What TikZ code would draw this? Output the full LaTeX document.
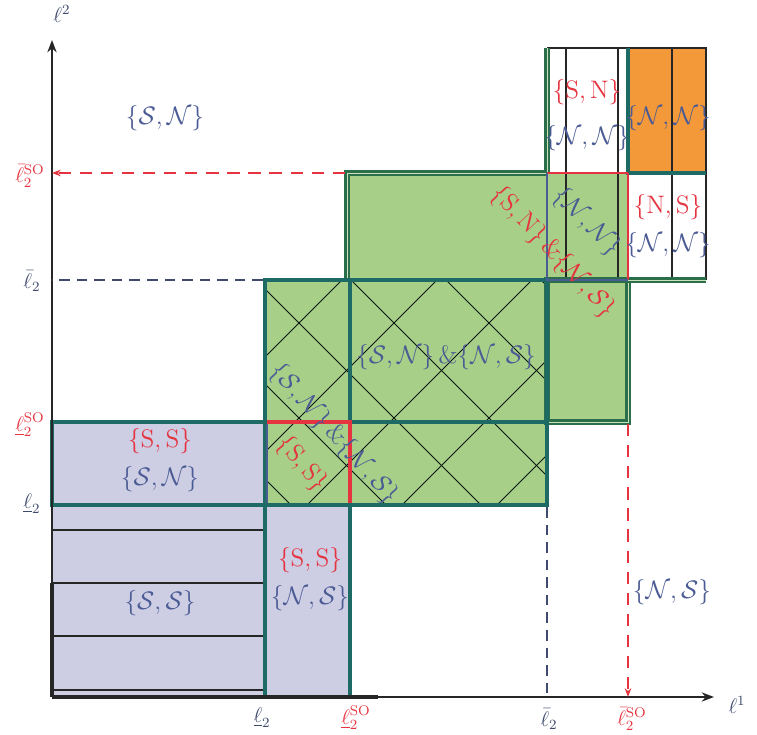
\documentclass[tikz,border=0pt]{standalone}
\usepackage{amsmath,amssymb}
\usetikzlibrary{arrows.meta, positioning}
\definecolor{pteal}{HTML}{1E6B66}
\definecolor{pdgreen}{HTML}{2B6E4C}
\definecolor{pgreen}{HTML}{A7CF88}
\definecolor{plav}{HTML}{CDCDE4}
\definecolor{porange}{HTML}{F4993A}
\definecolor{pred}{HTML}{E5333F}
\definecolor{pblue}{HTML}{4B5B94}
\definecolor{paxis}{HTML}{3F4A6E}
\tikzset{
  tbox/.style={draw=pteal, line width=2.6pt},
  dbox/.style={draw=pdgreen, line width=1.5pt, double=pgreen!60!white, double distance=0.4pt},
  thinl/.style={draw=black!85, line width=0.6pt},
  hatch/.style={draw=black!80!pdgreen, line width=0.5pt},
  bluelab/.style={text=pblue, font=\Large, inner sep=1pt},
  redlab/.style={text=pred, font=\Large, inner sep=1pt},
  axlab/.style={text=paxis, font=\large, inner sep=1pt},
  raxlab/.style={text=pred, font=\large, inner sep=1pt},
  rdash/.style={pred, dashed, line width=1.6pt, dash pattern=on 7pt off 5pt},
  bdash/.style={paxis, dashed, line width=0.6pt, dash pattern=on 6pt off 4pt},
}

\begin{document}
\begin{tikzpicture}[x=0.02cm, y=-0.02cm]
  \useasboundingbox (0,0) rectangle (757,734);

  %% Fills
  \fill[plav] (52,422) rectangle (265,697);
  \fill[plav] (265,505) rectangle (350,697);
  \fill[pgreen] (265,280) rectangle (547,505);
  \fill[pgreen] (347,173) rectangle (628,280);
  \fill[pgreen] (547,280) rectangle (628,422);
  \fill[porange] (628,48) rectangle (706,173);

  %% Crosshatch on the green block
  \begin{scope}
    \clip (265,280) rectangle (547,505);
    \foreach \c in {527,622,...,1002}
      \draw[hatch] (\c-200,200) -- (\c-600,600);
    \foreach \d in {-214,-119,...,261}
      \draw[hatch] (200+\d,200) -- (600+\d,600);
  \end{scope}

  %% Stripes
  \foreach \y in {530,583,636,690}
    \draw[thinl] (52,\y) -- (265,\y);
  \foreach \x in {566,618,672}
    \draw[thinl] (\x,48) -- (\x,280);
  \draw[thinl] (547,48) -- (628,48);
  \draw[black!85, line width=1.2pt] (628,48) -- (706,48) -- (706,173);
  \draw[thinl] (706,173) -- (706,280);

  %% Borders
  \draw[dbox] (347,280) -- (347,173) -- (547,173);
  \draw[dbox] (547,280) rectangle (628,422);
  \draw[dbox] (628,280) -- (706,280);
  \draw[dbox] (547,48) -- (547,173);
  \draw[tbox] (628,48) -- (628,173) -- (706,173);
  \draw[tbox] (52,422) rectangle (265,505);
  \draw[tbox] (265,505) rectangle (350,697);
  \draw[tbox] (265,280) rectangle (547,505);
  \draw[tbox] (350,280) -- (350,505);
  \draw[tbox] (265,422) -- (547,422);

  %% Highlight edges
  \draw[pred, line width=1.6pt] (547,173) -- (628,173);
  \draw[pred, line width=1.2pt] (628,173) -- (628,280);
  \draw[pblue, line width=1.4pt] (547,173) -- (547,280) -- (628,280);
  \draw[pred, line width=2pt] (267,422) -- (350,422) -- (350,503);
  \draw[pblue, line width=0.8pt] (267,424) -- (267,503);

  %% Axes
  \coordinate (O) at (52,697);
  \coordinate (xend) at (714,697);
  \coordinate (yend) at (52,40);
  \draw[black!85, line width=1.1pt, -{Stealth[length=7pt]}] (O) -- (xend);
  \draw[black!85, line width=1.1pt, -{Stealth[length=7pt]}] (O) -- (yend);
  \draw[black!85, line width=2.4pt] (52,697) -- (378,697);
  \draw[black!85, line width=2pt] (52,583) -- (52,697);
  \node[axlab] (l1) at (737,705) {$\ell^1$};
  \node[axlab] (l2) at (62,14) {$\ell^2$};

  %% Threshold guides
  \coordinate (ybsoA) at (52,173);
  \coordinate (ybsoB) at (345,173);
  \coordinate (ybA) at (52,280);
  \coordinate (ybB) at (263,280);
  \coordinate (xbA) at (547,507);
  \coordinate (xbB) at (547,697);
  \coordinate (xbsoA) at (628,424);
  \coordinate (xbsoB) at (628,697);
  \draw[rdash, -{Stealth[length=5pt]}] (ybsoB) -- (ybsoA);
  \draw[rdash, -{Stealth[length=5pt]}] (xbsoA) -- (xbsoB);
  \draw[bdash] (ybB) -- (ybA);
  \draw[bdash] (xbA) -- (xbB);

  %% Axis ticks labels
  \node[raxlab] (ybso) at (30,176) {$\bar{\ell}_2^{\mathrm{SO}}$};
  \node[axlab] (yb) at (32,281) {$\bar{\ell}_2$};
  \node[raxlab] (yuso) at (30,425) {$\underline{\ell}_2^{\mathrm{SO}}$};
  \node[axlab] (yu) at (32,504) {$\underline{\ell}_2$};
  \node[axlab] (xu) at (262,718) {$\underline{\ell}_2$};
  \node[raxlab] (xuso) at (356,718) {$\underline{\ell}_2^{\mathrm{SO}}$};
  \node[axlab] (xb) at (549,719) {$\bar{\ell}_2$};
  \node[raxlab] (xbso) at (632,719) {$\bar{\ell}_2^{\mathrm{SO}}$};

  %% Region labels
  \node[bluelab] (snA) at (165,118) {$\{\mathcal{S},\mathcal{N}\}$};
  \node[redlab] (ssA) at (160,441) {$\{\mathrm{S},\mathrm{S}\}$};
  \node[bluelab] (snB) at (160,479) {$\{\mathcal{S},\mathcal{N}\}$};
  \node[bluelab] (ssB) at (160,603) {$\{\mathcal{S},\mathcal{S}\}$};
  \node[redlab] (ssC) at (310,560) {$\{\mathrm{S},\mathrm{S}\}$};
  \node[bluelab] (nsA) at (310,598) {$\{\mathcal{N},\mathcal{S}\}$};
  \node[bluelab] (mixA) at (446,357) {$\{\mathcal{S},\mathcal{N}\}\,\&\{\mathcal{N},\mathcal{S}\}$};
  \node[bluelab, rotate=-48] (mixB) at (334,434) {$\{\mathcal{S},\mathcal{N}\}\,\&\{\mathcal{N},\mathcal{S}\}$};
  \node[redlab, rotate=-50] (ssD) at (302,464) {$\{\mathrm{S},\mathrm{S}\}$};
  \node[redlab, rotate=-47] (mixC) at (553,252) {$\{\mathrm{S},\mathrm{N}\}\,\&\{\mathcal{N},\mathcal{S}\}$};
  \node[bluelab, rotate=-45] (nnA) at (587,222) {$\{\mathcal{N},\mathcal{N}\}$};
  \node[redlab] (snC) at (587,92) {$\{\mathrm{S},\mathrm{N}\}$};
  \node[bluelab] (nnB) at (587,138) {$\{\mathcal{N},\mathcal{N}\}$};
  \node[bluelab] (nnC) at (668,118) {$\{\mathcal{N},\mathcal{N}\}$};
  \node[redlab] (nsB) at (668,207) {$\{\mathrm{N},\mathrm{S}\}$};
  \node[bluelab] (nnD) at (668,245) {$\{\mathcal{N},\mathcal{N}\}$};
  \node[bluelab] (nsC) at (672,592) {$\{\mathcal{N},\mathcal{S}\}$};

\end{tikzpicture}
\end{document}
